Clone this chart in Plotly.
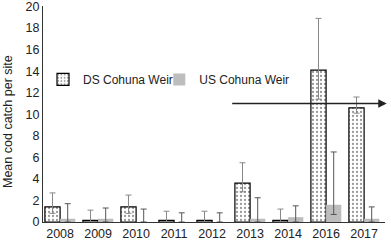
import plotly.graph_objects as go

years = ["2008", "2009", "2010", "2011", "2012", "2013", "2014", "2016", "2017"]
ds_mean = [1.4, 0.15, 1.4, 0.15, 0.15, 3.6, 0.15, 14.1, 10.6]
ds_err_up = [1.3, 0.95, 1.1, 0.85, 0.85, 1.9, 1.05, 4.8, 1.0]
ds_err_down = [0.6, 0.15, 0.6, 0.15, 0.15, 0.8, 0.15, 2.7, 0.5]
us_mean = [0.3, 0.3, 0.0, 0.0, 0.0, 0.3, 0.45, 1.6, 0.3]
us_err_up = [1.4, 1.0, 1.2, 0.85, 0.85, 1.95, 1.05, 4.9, 1.1]
us_err_down = [0.3, 0.3, 0.0, 0.0, 0.0, 0.3, 0.45, 0.9, 0.3]
arrow_level = 11.0
y_title = "Mean cod catch per site"

fig = go.Figure()
fig.add_trace(go.Bar(
    x=years, y=ds_mean, name="DS Cohuna Weir", legend="legend",
    marker=dict(color="white", line=dict(color="black", width=1.2),
                pattern=dict(shape=".", fgcolor="#333333", bgcolor="white", size=4, solidity=0.25)),
    error_y=dict(type="data", symmetric=False, array=ds_err_up, arrayminus=ds_err_down,
                 color="#888888", thickness=1, width=3),
))
fig.add_trace(go.Bar(
    x=years, y=us_mean, name="US Cohuna Weir", legend="legend2",
    marker=dict(color="#bdbdbd", line=dict(width=0)),
    error_y=dict(type="data", symmetric=False, array=us_err_up, arrayminus=us_err_down,
                 color="#555555", thickness=1, width=3),
))

fig.add_annotation(x=1.005, y=arrow_level, xref="paper", yref="y",
                   ax=-156, ay=0, axref="pixel", ayref="pixel",
                   showarrow=True, arrowhead=2, arrowsize=1.3, arrowwidth=1.3,
                   arrowcolor="#222222", text="")

fig.add_annotation(x=0, y=0.463, xref="paper", yref="paper", xshift=-35,
                   text=y_title, textangle=-90, showarrow=False,
                   xanchor="center", yanchor="middle",
                   font=dict(size=12.5, color="#222222"))

legend_common = dict(orientation="h", y=0.66, xanchor="left", yanchor="middle",
                     bgcolor="rgba(0,0,0,0)", font=dict(size=12), itemwidth=30)

fig.update_layout(
    width=391, height=241,
    margin=dict(l=43, r=6, t=6, b=19),
    plot_bgcolor="white", paper_bgcolor="white",
    font=dict(family="Liberation Sans, Arial, sans-serif", size=12, color="#222222"),
    barmode="group", bargap=0.2, bargroupgap=0.0,
    showlegend=True,
    legend=dict(x=0.0, **legend_common),
    legend2=dict(x=0.34, **legend_common),
    xaxis=dict(showline=True, linecolor="#333333", linewidth=1, ticks="",
               tickfont=dict(size=12.5), range=[-0.45, 8.55], automargin=False),
    yaxis=dict(range=[0, 20.05], dtick=2, showline=True, linecolor="#333333", linewidth=1,
               showgrid=False, zeroline=False, ticks="", tickfont=dict(size=12.5),
               automargin=False, ticklabeloverflow="allow"),
)

fig.write_html("out.html", config={"displayModeBar": False},
               post_script="document.body.style.margin='0';document.body.style.overflow='hidden';")
